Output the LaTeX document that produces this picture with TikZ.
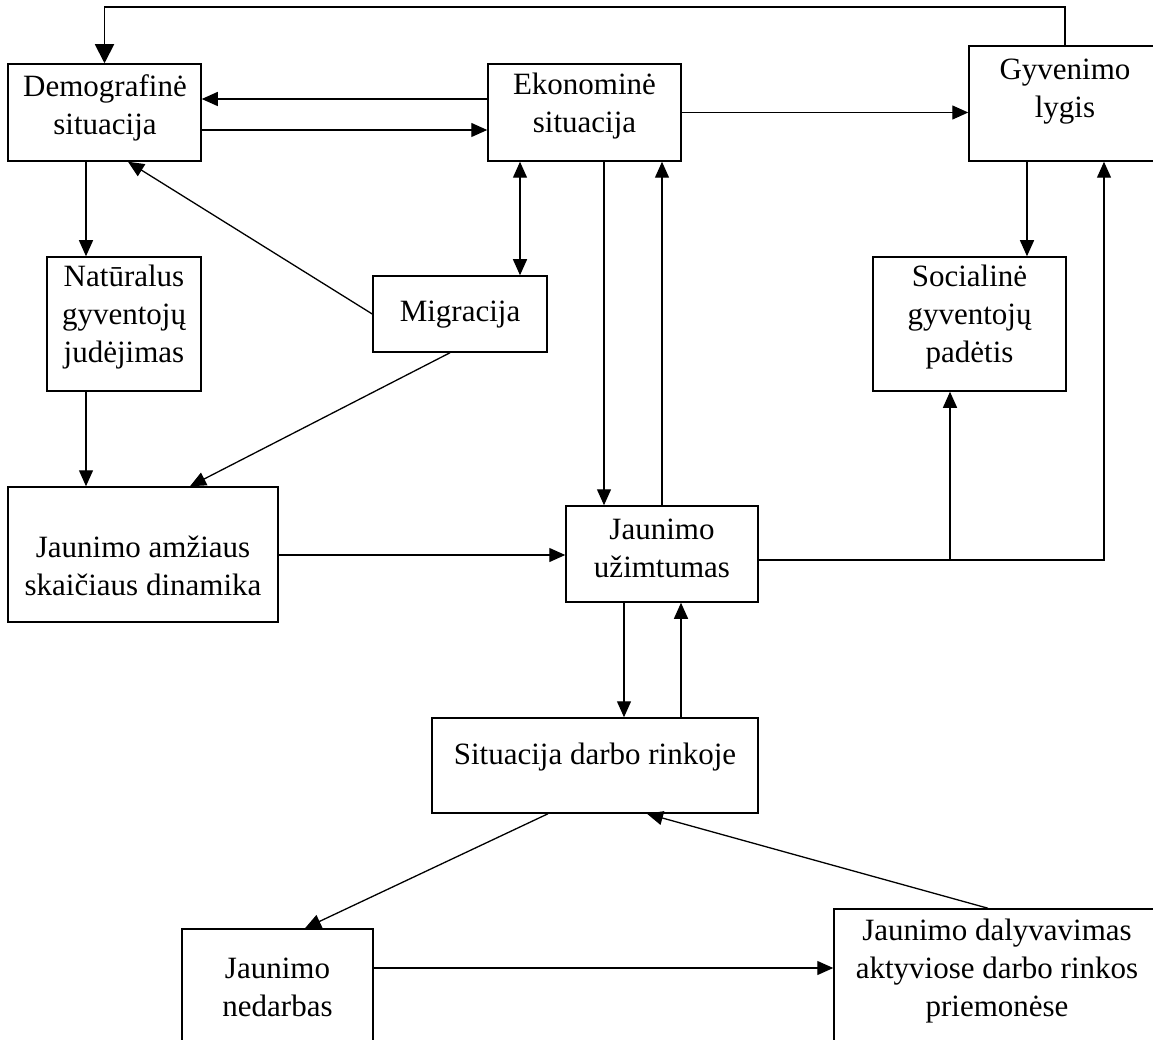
\documentclass[tikz,border=0pt]{standalone}
\usepackage{fontspec}
\setmainfont{Liberation Serif}
\usetikzlibrary{arrows.meta}
\begin{document}
\begin{tikzpicture}[x=1pt,y=-1pt,
  box/.style={draw, line width=1.5pt, inner sep=0pt},
  lbl/.style={align=center, inner sep=0pt, font=\fontsize{31}{38}\selectfont},
  arr/.style={line width=1.3pt, -{Triangle[length=16pt,width=14pt]}},
  dblarr/.style={line width=1.3pt, {Triangle[length=16pt,width=14pt]}-{Triangle[length=16pt,width=14pt]}},
  feedback/.style={line width=1.9pt, -{Triangle[length=19pt,width=19pt]}}
]
\useasboundingbox (0,0) rectangle (1153,1040);

% boxes
\node[box, minimum width=193pt, minimum height=97pt]  (demo) at (104.5,112.5) {};
\node[box, minimum width=193pt, minimum height=97pt]  (ekon) at (584.5,112.5) {};
\node[box, minimum width=192pt, minimum height=115pt] (gyv)  at (1065,103.5) {};
\node[box, minimum width=154pt, minimum height=134pt] (nat)  at (124,324) {};
\node[box, minimum width=174pt, minimum height=76pt]  (mig)  at (460,314) {};
\node[box, minimum width=193pt, minimum height=134pt] (soc)  at (969.5,324) {};
\node[box, minimum width=270pt, minimum height=135pt] (amz)  at (143,554.5) {};
\node[box, minimum width=192pt, minimum height=96pt]  (uzim) at (662,554) {};
\node[box, minimum width=326pt, minimum height=95pt]  (sit)  at (595,765.5) {};
\node[box, minimum width=191pt, minimum height=131pt] (ned)  at (277.5,994.5) {};
\node[box, minimum width=326pt, minimum height=146pt] (dal)  at (997,982) {};

% texts
\node[lbl] (demo-t) at (105,107.5) {Demografinė\\situacija};
\node[lbl] (ekon-t) at (584.5,106.5) {Ekonominė\\situacija};
\node[lbl] (gyv-t)  at (1065,91.5) {Gyvenimo\\lygis};
\node[lbl] (nat-t)  at (124,317) {Natūralus\\gyventojų\\judėjimas};
\node[lbl] (mig-t)  at (460,315) {Migracija};
\node[lbl] (soc-t)  at (969.5,317) {Socialinė\\gyventojų\\padėtis};
\node[lbl] (amz-t)  at (143,566) {Jaunimo amžiaus\\skaičiaus dinamika};
\node[lbl] (uzim-t) at (662,548.5) {Jaunimo\\užimtumas};
\node[lbl] (sit-t)  at (595,757) {Situacija darbo rinkoje};
\node[lbl] (ned-t)  at (277.5,987.5) {Jaunimo\\nedarbas};
\node[lbl] (dal-t)  at (997,971) {Jaunimo dalyvavimas\\aktyviose darbo rinkos\\priemonėse};

% feedback loop across the top
\draw[feedback] (gyv.north) -- (gyv.north |- 0,7) -| (demo.north);

% top row
\draw[arr] (ekon.west |- 0,99) -- (demo.east |- 0,99);
\draw[arr] (demo.east |- 0,130) -- (ekon.west |- 0,130);
\draw[arr] (ekon.east) -- (gyv.west |- ekon.east);

% left column
\draw[arr] (86,0 |- demo.south) -- (86,0 |- nat.north);
\draw[arr] (86,0 |- nat.south) -- (86,0 |- amz.north);
\draw[arr] (mig.west) -- (128,0 |- demo.south);
\draw[arr] (450,0 |- mig.south) -- (190,0 |- amz.north);

% middle column
\draw[dblarr] (520,0 |- ekon.south) -- (520,0 |- mig.north);
\draw[arr] (604,0 |- ekon.south) -- (604,0 |- uzim.north);
\draw[arr] (662,0 |- uzim.north) -- (662,0 |- ekon.south);
\draw[arr] (amz.east |- 0,555) -- (uzim.west |- 0,555);

% right column
\draw[arr] (1027,0 |- gyv.south) -- (1027,0 |- soc.north);
\coordinate (fork) at (950,560);
\draw[arr] (uzim.east |- 0,560) -| (1104,0 |- gyv.south);
\draw[arr] (fork) -- (fork |- soc.south);

% labour market
\draw[arr] (624,0 |- uzim.south) -- (624,0 |- sit.north);
\draw[arr] (681,0 |- sit.north) -- (681,0 |- uzim.south);
\draw[arr] (548,0 |- sit.south) -- (305,0 |- ned.north);
\draw[arr] (988,0 |- dal.north) -- (647,0 |- sit.south);
\draw[arr] (ned.east |- 0,968) -- (dal.west |- 0,968);
\end{tikzpicture}
\end{document}
